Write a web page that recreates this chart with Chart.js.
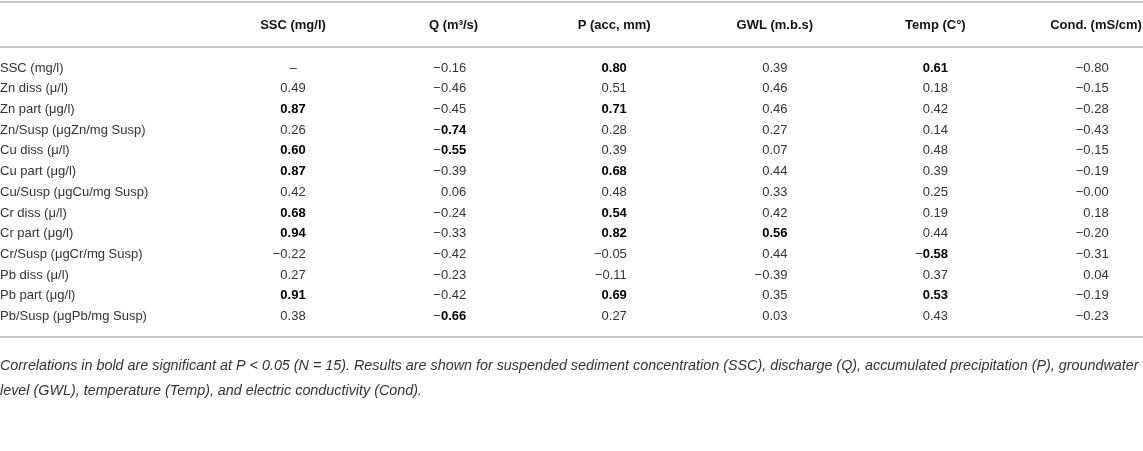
<!DOCTYPE html>
<html>
<head>
<meta charset="utf-8">
<script src="https://cdn.jsdelivr.net/npm/chart.js@4.4.1/dist/chart.umd.min.js"></script>
<style>
  html, body { margin: 0; padding: 0; background: #fff; }
</style>
</head>
<body>
<canvas id="table" width="1143" height="451"></canvas>
<script>
const rowLabels = [
  'SSC (mg/l)',
  'Zn diss (μ/l)',
  'Zn part (μg/l)',
  'Zn/Susp (μgZn/mg Susp)',
  'Cu diss (μ/l)',
  'Cu part (μg/l)',
  'Cu/Susp (μgCu/mg Susp)',
  'Cr diss (μ/l)',
  'Cr part (μg/l)',
  'Cr/Susp (μgCr/mg Susp)',
  'Pb diss (μ/l)',
  'Pb part (μg/l)',
  'Pb/Susp (μgPb/mg Susp)'
];
const colLabels = ['SSC (mg/l)', 'Q (m³/s)', 'P (acc, mm)', 'GWL (m.b.s)', 'Temp (C°)', 'Cond. (mS/cm)'];

// one array per column, rows in the order of rowLabels
const ssc  = [null, 0.49, 0.87, 0.26, 0.60, 0.87, 0.42, 0.68, 0.94, -0.22, 0.27, 0.91, 0.38];
const q    = [-0.16, -0.46, -0.45, -0.74, -0.55, -0.39, 0.06, -0.24, -0.33, -0.42, -0.23, -0.42, -0.66];
const p    = [0.80, 0.51, 0.71, 0.28, 0.39, 0.68, 0.48, 0.54, 0.82, -0.05, -0.11, 0.69, 0.27];
const gwl  = [0.39, 0.46, 0.46, 0.27, 0.07, 0.44, 0.33, 0.42, 0.56, 0.44, -0.39, 0.35, 0.03];
const temp = [0.61, 0.18, 0.42, 0.14, 0.48, 0.39, 0.25, 0.19, 0.44, -0.58, 0.37, 0.53, 0.43];
const cond = [-0.80, -0.15, -0.28, -0.43, -0.15, -0.19, -0.00, 0.18, -0.20, -0.31, 0.04, -0.19, -0.23];

// rows printed in bold (significant at P < 0.05)
const sscSig  = [2, 4, 5, 7, 8, 11];
const qSig    = [3, 4, 12];
const pSig    = [0, 2, 5, 7, 8, 11];
const gwlSig  = [8];
const tempSig = [0, 9, 11];
const condSig = [];

const footnote = [
  'Correlations in bold are significant at P < 0.05 (N = 15). Results are shown for suspended sediment concentration (SSC), discharge (Q), accumulated precipitation (P), groundwater',
  'level (GWL), temperature (Temp), and electric conductivity (Cond).'
];

const FONT = "'Liberation Sans', Arial, Helvetica, sans-serif";
const columns = [ssc, q, p, gwl, temp, cond];
const sigs = [sscSig, qSig, pSig, gwlSig, tempSig, condSig];

const datasets = columns.map(function (vals, c) {
  return {
    label: colLabels[c],
    data: vals.map(function (v, r) { return { x: colLabels[c], y: rowLabels[r], v: v }; }),
    sig: sigs[c],
    pointRadius: 0,
    showLine: false
  };
});

function isNeg(v) { return v < 0 || Object.is(v, -0); }

// writes the cell values at the points placed by the scales, plus the table rules
const cellText = {
  id: 'cellText',
  afterDatasetsDraw: function (chart) {
    const ctx = chart.ctx;
    const regular = '13px ' + FONT;
    const bold = 'bold 13px ' + FONT;
    ctx.save();
    ctx.textBaseline = 'middle';
    ctx.font = regular;
    const half = ctx.measureText('0.00').width / 2;

    chart.data.datasets.forEach(function (ds, di) {
      chart.getDatasetMeta(di).data.forEach(function (pt, i) {
        const v = ds.data[i].v;
        if (v === null) {
          ctx.font = regular;
          ctx.fillStyle = '#333';
          ctx.textAlign = 'center';
          ctx.fillText('–', pt.x, pt.y);
          return;
        }
        const isBold = ds.sig.indexOf(i) !== -1;
        const digits = Math.abs(v).toFixed(2);
        const right = pt.x + half;
        ctx.textAlign = 'right';
        ctx.font = isBold ? bold : regular;
        ctx.fillStyle = isBold ? '#000' : '#333';
        ctx.fillText(digits, right, pt.y);
        if (isNeg(v)) {
          const w = ctx.measureText(digits).width;
          ctx.font = regular;
          ctx.fillStyle = '#333';
          ctx.fillText('−', right - w, pt.y);
        }
      });
    });

    const x = chart.scales.x;
    const y = chart.scales.y;
    ctx.strokeStyle = '#b4b4b4';
    ctx.lineWidth = 1.5;
    [x.top + 2, y.top - 10.5, y.bottom + 10].forEach(function (yy) {
      ctx.beginPath();
      ctx.moveTo(0, yy);
      ctx.lineTo(chart.width, yy);
      ctx.stroke();
    });
    ctx.restore();
  }
};

new Chart(document.getElementById('table'), {
  type: 'scatter',
  data: { datasets: datasets },
  plugins: [cellText],
  options: {
    responsive: false,
    animation: false,
    events: [],
    layout: { padding: 0 },
    plugins: {
      legend: { display: false },
      tooltip: { enabled: false },
      subtitle: {
        display: true,
        position: 'bottom',
        align: 'start',
        text: footnote,
        color: '#333',
        font: { family: FONT, size: 14.35, style: 'italic', lineHeight: 25 / 14.35 },
        padding: { top: 26, bottom: 48 }
      }
    },
    scales: {
      x: {
        type: 'category',
        labels: colLabels,
        position: 'top',
        offset: false,
        grid: { display: false, drawTicks: false },
        border: { display: false },
        ticks: {
          autoSkip: false,
          maxRotation: 0,
          padding: 24,
          color: '#111',
          font: { family: FONT, size: 13, weight: 'bold' }
        },
        afterFit: function (scale) {
          // keep the last header inside the canvas
          scale.height = 57.6;
          scale.paddingLeft = 0;
          scale.paddingRight = 47;
        }
      },
      y: {
        type: 'category',
        labels: rowLabels,
        offset: true,
        grid: { display: false, drawTicks: false },
        border: { display: false },
        ticks: {
          autoSkip: false,
          crossAlign: 'far',
          padding: 0,
          color: '#333',
          font: { family: FONT, size: 13 }
        },
        afterFit: function (scale) { scale.width = 293; }
      }
    }
  }
});
</script>
</body>
</html>
